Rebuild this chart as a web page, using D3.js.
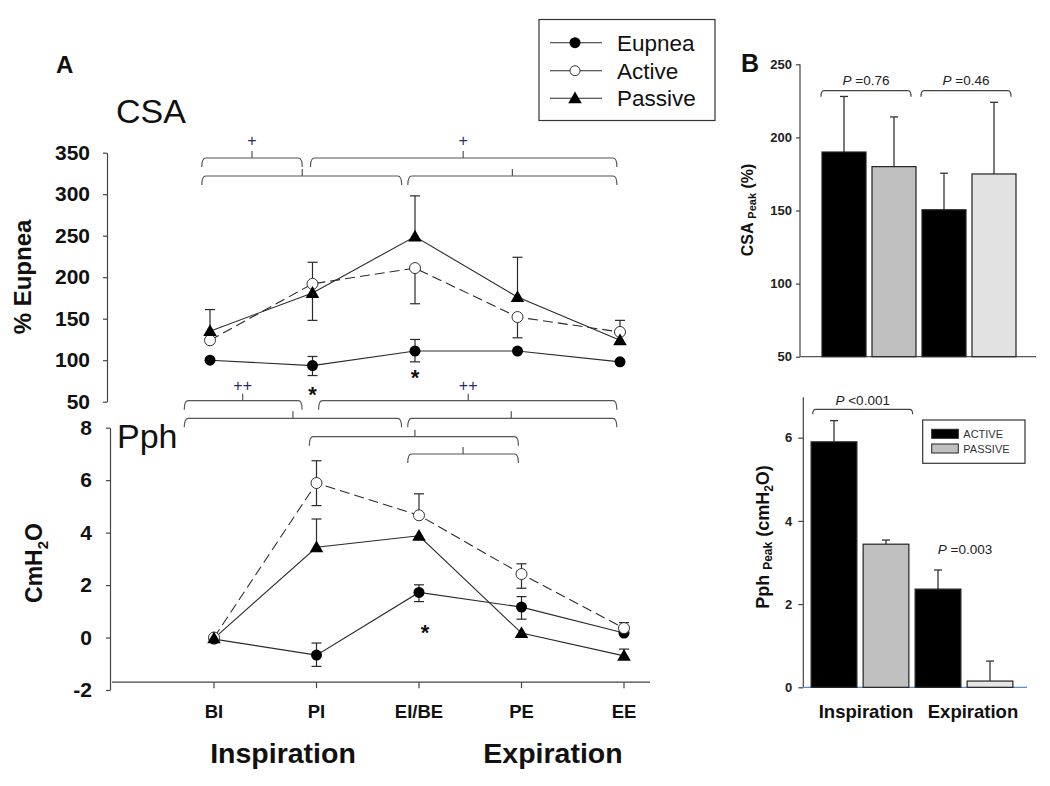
<!DOCTYPE html>
<html>
<head>
<meta charset="utf-8">
<script src="https://cdn.jsdelivr.net/npm/d3@7"></script>
<style>
  html, body { margin: 0; padding: 0; background: #fff; }
  svg { display: block; font-family: "Liberation Sans", Arial, sans-serif; }
</style>
</head>
<body>
<svg id="chart" width="1050" height="786"></svg>
<script>
// ---------------- DATA ----------------
const categories = ["BI", "PI", "EI/BE", "PE", "EE"];
const seriesNames = ["Eupnea", "Active", "Passive"];

// Panel A, CSA (% Eupnea)
const csaEupnea      = [100, 93.5, 111, 111, 98];
const csaEupneaUp    = [0, 11, 14, 0, 0];
const csaEupneaDown  = [0, 12, 13, 0, 0];
const csaActive      = [124, 192, 211, 152, 134];
const csaActiveUp    = [0, 26, 0, 0, 14];
const csaActiveDown  = [0, 0, 43, 25, 0];
const csaPassive     = [135, 181, 249, 176, 124];
const csaPassiveUp   = [26, 0, 49, 48, 0];
const csaPassiveDown = [0, 33, 0, 0, 0];
const csaTicks = [50, 100, 150, 200, 250, 300, 350];

// Panel A, Pph (cmH2O)
const pphEupnea      = [-0.06, -0.67, 1.72, 1.16, 0.17];
const pphEupneaUp    = [0, 0.46, 0.29, 0.40, 0];
const pphEupneaDown  = [0, 0.43, 0.35, 0.46, 0];
const pphActive      = [0, 5.89, 4.66, 2.42, 0.36];
const pphActiveUp    = [0, 0.85, 0.82, 0.39, 0.21];
const pphActiveDown  = [0, 0.86, 0, 0.54, 0];
const pphPassive     = [-0.03, 3.44, 3.88, 0.17, -0.70];
const pphPassiveUp   = [0, 1.08, 0, 0, 0.26];
const pphPassiveDown = [0, 0, 0, 0, 0];
const pphTicks = [-2, 0, 2, 4, 6, 8];

// significance brackets (category-index units): [from, to, centre tick, row, label]
const csaBrackets = [
  [-0.08, 0.90, 0.41, 0, "+"],
  [0.98, 3.97, 2.47, 0, "+"],
  [-0.08, 1.87, 0.90, 1, ""],
  [1.93, 3.97, 2.95, 1, ""]
];
const pphBrackets = [
  [-0.29, 0.86, 0.28, 0, "++"],
  [1.02, 3.93, 2.48, 0, "++"],
  [-0.29, 1.83, 0.77, 1, ""],
  [1.89, 3.93, 2.90, 1, ""],
  [0.93, 2.97, 1.96, 2, ""],
  [1.89, 2.97, 2.43, 3, ""]
];
// asterisks: [category index, value]
const csaStars = [[1, 64], [2, 84]];
const pphStars = [[2.06, 0.36]];

// Panel B
const groups = ["Inspiration", "Expiration"];
const conditions = ["ACTIVE", "PASSIVE"];
const csaPeakActive = [190, 150.5];
const csaPeakActiveErr = [38, 25];
const csaPeakPassive = [180, 175];
const csaPeakPassiveErr = [34, 49];
const csaPeakTicks = [50, 100, 150, 200, 250];
const csaPeakP = ["=0.76", "=0.46"];

const pphPeakActive = [5.90, 2.36];
const pphPeakActiveErr = [0.51, 0.46];
const pphPeakPassive = [3.44, 0.15];
const pphPeakPassiveErr = [0.10, 0.48];
const pphPeakTicks = [0, 2, 4, 6];
const pphPeakP = ["<0.001", "=0.003"];

// ---------------- DRAWING ----------------
const svg = d3.select("#chart");
svg.append("rect").attr("width", 1050).attr("height", 786).attr("fill", "#fff");

const AX = "#444";
const LINE = "#2a2a2a";
const FONT = "'Liberation Sans', Arial, sans-serif";
const fmt = d => String(d);

// Scales panel A
const xTop = d3.scaleLinear().domain([0, 4]).range([210, 620]);
const xBot = d3.scaleLinear().domain([0, 4]).range([214, 624]);
const yTop = d3.scaleLinear().domain([50, 350]).range([401.7, 152.7]);
const yBot = d3.scaleLinear().domain([-2, 8]).range([690, 427.7]);

function styleAxis(g, fontSize, weight) {
  g.select(".domain").attr("stroke", AX).attr("stroke-width", 1.2);
  g.selectAll(".tick line").attr("stroke", AX).attr("stroke-width", 1.2);
  g.selectAll(".tick text").attr("fill", "#111").attr("font-size", fontSize)
    .attr("font-weight", weight).attr("font-family", FONT);
}

// top axis
const gTopAxis = svg.append("g").attr("transform", "translate(107,0)")
  .call(d3.axisLeft(yTop).tickValues(csaTicks).tickFormat(fmt).tickSize(4).tickPadding(13).tickSizeOuter(0));
styleAxis(gTopAxis, 21, "bold");

// bottom axis
const gBotAxis = svg.append("g").attr("transform", "translate(110,0)")
  .call(d3.axisLeft(yBot).tickValues(pphTicks).tickFormat(fmt).tickSize(4).tickPadding(14).tickSizeOuter(0));
styleAxis(gBotAxis, 21, "bold");

// bottom x axis line
const xAxisY = yBot(-1.7);
svg.append("line").attr("x1", 112).attr("x2", 650).attr("y1", xAxisY).attr("y2", xAxisY)
  .attr("stroke", AX).attr("stroke-width", 1.2);
categories.forEach((c, i) => {
  svg.append("line").attr("x1", xBot(i)).attr("x2", xBot(i)).attr("y1", xAxisY).attr("y2", xAxisY + 6)
    .attr("stroke", AX).attr("stroke-width", 1.2);
  svg.append("text").attr("x", xBot(i)).attr("y", 718).attr("text-anchor", "middle")
    .attr("font-size", 18.5).attr("font-weight", "bold").attr("fill", "#111").text(c);
});

svg.append("text").attr("x", 283).attr("y", 763).attr("text-anchor", "middle")
  .attr("font-size", 28.5).attr("font-weight", "bold").attr("fill", "#111").text("Inspiration");
svg.append("text").attr("x", 553).attr("y", 763).attr("text-anchor", "middle")
  .attr("font-size", 28.5).attr("font-weight", "bold").attr("fill", "#111").text("Expiration");

// y labels panel A
svg.append("text").attr("transform", "translate(31,277) rotate(-90)").attr("text-anchor", "middle")
  .attr("font-size", 24).attr("font-weight", "bold").attr("fill", "#111").text("% Eupnea");
const cmh = svg.append("text").attr("transform", "translate(42,563) rotate(-90)").attr("text-anchor", "middle")
  .attr("font-size", 23).attr("font-weight", "bold").attr("fill", "#111");
cmh.append("tspan").text("CmH");
cmh.append("tspan").attr("font-size", 15).attr("dy", 6).text("2");
cmh.append("tspan").attr("dy", -6).text("O");

// panel titles
svg.append("text").attr("x", 56).attr("y", 73).attr("font-size", 24).attr("font-weight", "bold").attr("fill", "#111").text("A");
svg.append("text").attr("x", 741).attr("y", 72).attr("font-size", 25).attr("font-weight", "bold").attr("fill", "#111").text("B");
svg.append("text").attr("x", 116).attr("y", 123).attr("font-size", 34).attr("fill", "#111").text("CSA");
svg.append("text").attr("x", 117).attr("y", 448).attr("font-size", 34).attr("fill", "#111").text("Pph");

// brackets
function drawBrackets(list, xs, rowsY, labelY) {
  list.forEach(b => {
    const [f, t, m, row, lab] = b;
    const x1 = xs(f), x2 = xs(t), xm = xs(m), y = rowsY[row];
    svg.append("path")
      .attr("d", `M${x1},${y + 9} Q${x1},${y} ${x1 + 4},${y} H${x2 - 4} Q${x2},${y} ${x2},${y + 9} M${xm},${y} V${y - 7}`)
      .attr("fill", "none").attr("stroke", "#555").attr("stroke-width", 1.2);
    if (lab) {
      svg.append("text").attr("x", xm).attr("y", labelY).attr("text-anchor", "middle")
        .attr("font-size", 16).attr("fill", "#2b2b6e").text(lab);
    }
  });
}
drawBrackets(csaBrackets, xTop, [158, 176], 146);
drawBrackets(pphBrackets, xBot, [400.7, 418.3, 436.7, 454], 391);

// stars
csaStars.forEach(s => {
  svg.append("text").attr("x", xTop(s[0])).attr("y", yTop(s[1]) + 12).attr("text-anchor", "middle")
    .attr("font-size", 22).attr("font-weight", "bold").attr("fill", "#111").text("*");
});
pphStars.forEach(s => {
  svg.append("text").attr("x", xBot(s[0])).attr("y", yBot(s[1]) + 12).attr("text-anchor", "middle")
    .attr("font-size", 22).attr("font-weight", "bold").attr("fill", "#111").text("*");
});

// series
const triangle = d3.symbol().type(d3.symbolTriangle).size(80);
function drawSeries(xs, ys, vals, up, down, kind) {
  const line = d3.line().x((d, i) => xs(i)).y(d => ys(d));
  svg.append("path").datum(vals).attr("d", line).attr("fill", "none")
    .attr("stroke", LINE).attr("stroke-width", 1.1)
    .attr("stroke-dasharray", kind === "Active" ? "10,5" : null);
  vals.forEach((v, i) => {
    const x = xs(i);
    [[up[i], 1], [down[i], -1]].forEach(([e, s]) => {
      if (!e) return;
      const ye = ys(v + s * e);
      svg.append("line").attr("x1", x).attr("x2", x).attr("y1", ys(v)).attr("y2", ye)
        .attr("stroke", LINE).attr("stroke-width", 1.2);
      svg.append("line").attr("x1", x - 5).attr("x2", x + 5).attr("y1", ye).attr("y2", ye)
        .attr("stroke", LINE).attr("stroke-width", 1.2);
    });
  });
}
function drawMarkers(xs, ys, vals, kind) {
  vals.forEach((v, i) => {
    const x = xs(i), y = ys(v);
    if (kind === "Eupnea") {
      svg.append("circle").attr("cx", x).attr("cy", y).attr("r", 5.5).attr("fill", "#000");
    } else if (kind === "Active") {
      svg.append("circle").attr("cx", x).attr("cy", y).attr("r", 5.5).attr("fill", "#fff")
        .attr("stroke", "#333").attr("stroke-width", 1);
    } else {
      svg.append("path").attr("d", triangle).attr("transform", `translate(${x},${y + 1})`).attr("fill", "#000");
    }
  });
}
const topSets = [[csaEupnea, csaEupneaUp, csaEupneaDown, "Eupnea"], [csaActive, csaActiveUp, csaActiveDown, "Active"], [csaPassive, csaPassiveUp, csaPassiveDown, "Passive"]];
const botSets = [[pphEupnea, pphEupneaUp, pphEupneaDown, "Eupnea"], [pphActive, pphActiveUp, pphActiveDown, "Active"], [pphPassive, pphPassiveUp, pphPassiveDown, "Passive"]];
topSets.forEach(s => drawSeries(xTop, yTop, s[0], s[1], s[2], s[3]));
botSets.forEach(s => drawSeries(xBot, yBot, s[0], s[1], s[2], s[3]));
topSets.forEach(s => drawMarkers(xTop, yTop, s[0], s[3]));
botSets.forEach(s => drawMarkers(xBot, yBot, s[0], s[3]));

// legend panel A
svg.append("rect").attr("x", 539).attr("y", 19.5).attr("width", 176).attr("height", 101)
  .attr("fill", "#fff").attr("stroke", "#333").attr("stroke-width", 1.2);
const legRows = [42.7, 70.7, 98.3];
seriesNames.forEach((n, i) => {
  const y = legRows[i];
  svg.append("line").attr("x1", 550).attr("x2", 602).attr("y1", y).attr("y2", y).attr("stroke", LINE).attr("stroke-width", 1.1);
  if (n === "Eupnea") svg.append("circle").attr("cx", 575).attr("cy", y).attr("r", 5.5).attr("fill", "#000");
  else if (n === "Active") svg.append("circle").attr("cx", 575).attr("cy", y).attr("r", 5).attr("fill", "#fff").attr("stroke", "#333");
  else svg.append("path").attr("d", triangle).attr("transform", `translate(575,${y + 1})`).attr("fill", "#000");
  svg.append("text").attr("x", 617).attr("y", y + 8).attr("font-size", 22.5).attr("fill", "#111").text(n);
});

// ---------------- Panel B ----------------
function drawBarPanel(opts) {
  const { y, ticks, axisX, xRange, baseY, actV, actE, pasV, pasE, pasColors, axisColor, xLineEnd, tickPad, tickLen, yTopVal } = opts;
  const x0 = d3.scaleBand().domain(groups).range(xRange).padding(0);
  const x1 = d3.scaleBand().domain(conditions).range([0, x0.bandwidth()]).paddingInner(0.12).paddingOuter(0.06);
  const g = svg.append("g").attr("transform", `translate(${axisX},0)`)
    .call(d3.axisLeft(y).tickValues(ticks).tickFormat(fmt).tickSize(tickLen).tickPadding(tickPad).tickSizeOuter(0));
  g.select(".domain").remove();
  g.append("line").attr("x1", 0).attr("x2", 0).attr("y1", y(yTopVal)).attr("y2", y(y.domain()[0]))
    .attr("stroke", AX).attr("stroke-width", 1.2);
  g.selectAll(".tick line").attr("stroke", AX).attr("stroke-width", 1.2);
  g.selectAll(".tick text").attr("fill", "#222").attr("font-size", 13).attr("font-weight", "bold").attr("font-family", FONT);
  svg.append("line").attr("x1", axisX).attr("x2", xLineEnd).attr("y1", baseY).attr("y2", baseY)
    .attr("stroke", axisColor).attr("stroke-width", 1.3);

  groups.forEach((grp, gi) => {
    const bars = [[conditions[0], actV[gi], actE[gi], "#000"], [conditions[1], pasV[gi], pasE[gi], pasColors[gi]]];
    bars.forEach(([c, v, e, col]) => {
      const bx = x0(grp) + x1(c), bw = x1.bandwidth();
      const cx = bx + bw / 2;
      svg.append("line").attr("x1", cx).attr("x2", cx).attr("y1", y(v)).attr("y2", y(v + e))
        .attr("stroke", "#333").attr("stroke-width", 1.3);
      svg.append("line").attr("x1", cx - 4).attr("x2", cx + 4).attr("y1", y(v + e)).attr("y2", y(v + e))
        .attr("stroke", "#333").attr("stroke-width", 1.3);
      svg.append("rect").attr("x", bx).attr("y", y(v)).attr("width", bw).attr("height", baseY - y(v))
        .attr("fill", col).attr("stroke", "#222").attr("stroke-width", 1.2);
    });
  });
  return { x0, x1 };
}

// top B
const yB1 = d3.scaleLinear().domain([50, 250]).range([356.7, 64.3]);
const b1 = drawBarPanel({ y: yB1, ticks: csaPeakTicks, axisX: 800, xRange: [819, 1019], baseY: 356.7,
  actV: csaPeakActive, actE: csaPeakActiveErr, pasV: csaPeakPassive, pasE: csaPeakPassiveErr,
  pasColors: ["#c0c0c0", "#e2e2e2"], axisColor: "#555", xLineEnd: 1036, tickPad: 4, tickLen: 4, yTopVal: 250 });
groups.forEach((grp, gi) => {
  const xa = b1.x0(grp) + 2, xb = b1.x0(grp) + b1.x0.bandwidth() - 8;
  const yy = 90.7;
  svg.append("path").attr("d", `M${xa},${yy + 6} Q${xa},${yy} ${xa + 3},${yy} H${xb - 3} Q${xb},${yy} ${xb},${yy + 6}`)
    .attr("fill", "none").attr("stroke", "#444").attr("stroke-width", 1.2);
  const t = svg.append("text").attr("x", (xa + xb) / 2).attr("y", 85).attr("text-anchor", "middle")
    .attr("font-size", 13.5).attr("fill", "#222");
  t.append("tspan").attr("font-style", "italic").text("P");
  t.append("tspan").text(" " + csaPeakP[gi]);
});
const csaLab = svg.append("text").attr("transform", "translate(753,210) rotate(-90)").attr("text-anchor", "middle")
  .attr("font-size", 16).attr("font-weight", "bold").attr("fill", "#111");
csaLab.append("tspan").text("CSA ");
csaLab.append("tspan").attr("font-size", 11).attr("dy", 3).text("Peak");
csaLab.append("tspan").attr("dy", -3).text(" (%)");

// bottom B
const yB2 = d3.scaleLinear().domain([0, 7]).range([687.3, 687.3 - 7 * 41.6]);
const b2 = drawBarPanel({ y: yB2, ticks: pphPeakTicks, axisX: 803.3, xRange: [808, 1016], baseY: 687.3,
  actV: pphPeakActive, actE: pphPeakActiveErr, pasV: pphPeakPassive, pasE: pphPeakPassiveErr,
  pasColors: ["#c0c0c0", "#e6e6e6"], axisColor: "#5b8ccc", xLineEnd: 1027, tickPad: 6, tickLen: 5, yTopVal: 6.97 });
{
  const xa = 812.7, xb = 912.7, yy = 409.3;
  svg.append("path").attr("d", `M${xa},${yy + 5} Q${xa},${yy} ${xa + 3},${yy} H${xb - 3} Q${xb},${yy} ${xb},${yy + 5}`)
    .attr("fill", "none").attr("stroke", "#444").attr("stroke-width", 1.2);
  const t = svg.append("text").attr("x", (xa + xb) / 2).attr("y", 405).attr("text-anchor", "middle")
    .attr("font-size", 13.5).attr("fill", "#222");
  t.append("tspan").attr("font-style", "italic").text("P");
  t.append("tspan").text(" " + pphPeakP[0]);
  const t2 = svg.append("text").attr("x", 965).attr("y", 554).attr("text-anchor", "middle")
    .attr("font-size", 13.5).attr("fill", "#222");
  t2.append("tspan").attr("font-style", "italic").text("P");
  t2.append("tspan").text(" " + pphPeakP[1]);
}
const pphLab = svg.append("text").attr("transform", "translate(769,537) rotate(-90)").attr("text-anchor", "middle")
  .attr("font-size", 18).attr("font-weight", "bold").attr("fill", "#111");
pphLab.append("tspan").text("Pph ");
pphLab.append("tspan").attr("font-size", 12).attr("dy", 3).text("Peak");
pphLab.append("tspan").attr("dy", -3).text(" (cmH");
pphLab.append("tspan").attr("font-size", 12).attr("dy", 4).text("2");
pphLab.append("tspan").attr("dy", -4).text("O)");

groups.forEach((grp, gi) => {
  svg.append("text").attr("x", gi === 0 ? 866 : 973).attr("y", 718).attr("text-anchor", "middle")
    .attr("font-size", 18.5).attr("font-weight", "bold").attr("fill", "#111").text(grp);
});

// legend B
svg.append("rect").attr("x", 922.7).attr("y", 420).attr("width", 102.3).attr("height", 43.3)
  .attr("fill", "#fff").attr("stroke", "#333").attr("stroke-width", 1.2);
const legCols = ["#000", "#c0c0c0"];
conditions.forEach((c, i) => {
  const yy = 429.3 + i * 14.7;
  svg.append("rect").attr("x", 931.7).attr("y", yy).attr("width", 26.6).attr("height", 9)
    .attr("fill", legCols[i]).attr("stroke", "#222").attr("stroke-width", 1);
  svg.append("text").attr("x", 963.3).attr("y", yy + 8.5).attr("font-size", 11).attr("fill", "#333").text(c);
});
</script>
</body>
</html>
